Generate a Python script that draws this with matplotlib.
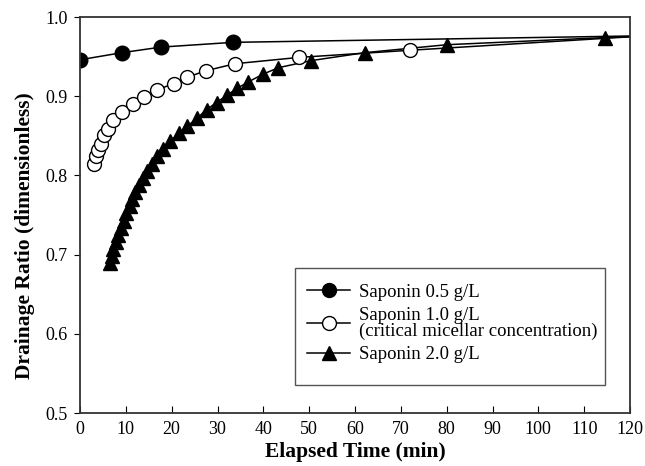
import matplotlib.pyplot as plt
from matplotlib.patches import Rectangle

plt.rcParams['font.family'] = ['Liberation Serif', 'DejaVu Serif']

# Saponin 0.5 g/L
t_05 = [0.0, 9.2, 17.7, 33.4]
r_05 = [0.946, 0.955, 0.962, 0.968]

# Saponin 1.0 g/L (CMC)
t_10 = [3.05, 3.5, 4.0, 4.5, 5.2, 6.2, 7.3, 9.1, 11.5, 14.0, 16.9, 20.4,
        23.4, 27.4, 33.8, 47.8, 72.0]
r_10 = [0.814, 0.824, 0.832, 0.840, 0.851, 0.859, 0.870, 0.880, 0.890, 0.899,
        0.908, 0.916, 0.924, 0.932, 0.941, 0.949, 0.958]

# Saponin 2.0 g/L
t_20 = [6.5, 6.9, 7.3, 7.8, 8.3, 8.9, 9.5, 10.1, 10.8, 11.4, 12.1, 12.9,
        13.8, 14.7, 15.6, 16.7, 18.0, 19.6, 21.6, 23.4, 25.5, 27.6, 29.8,
        32.0, 34.3, 36.7, 40.0, 43.3, 50.5, 62.2, 80.0, 114.5]
r_20 = [0.689, 0.698, 0.707, 0.716, 0.725, 0.734, 0.743, 0.752, 0.761, 0.770,
        0.779, 0.788, 0.797, 0.806, 0.815, 0.824, 0.833, 0.843, 0.853, 0.862,
        0.872, 0.883, 0.892, 0.901, 0.910, 0.918, 0.928, 0.936, 0.945, 0.955,
        0.965, 0.974]

# where the fitted lines end at the right edge
t_end = 120
r_end = [0.976, 0.975, 0.975]

fig = plt.figure(figsize=(6.45, 4.66), dpi=100)
ax = fig.add_axes([80 / 645, 1 - 413 / 466, 550 / 645, 396 / 466])

ax.plot(t_05 + [t_end], r_05 + [r_end[0]], color='black', lw=1.1)
ax.plot(t_10 + [t_end], r_10 + [r_end[1]], color='black', lw=1.1)
ax.plot(t_20 + [t_end], r_20 + [r_end[2]], color='black', lw=1.1)

ax.plot(t_05, r_05, 'o', ms=10.5, color='black', mfc='black')
ax.plot(t_10, r_10, 'o', ms=10, color='black', mfc='white', mew=1)
ax.plot(t_20, r_20, '^', ms=10, color='black', mfc='black')

# legend handles with line through marker
l1, = ax.plot([], [], '-o', color='black', ms=10, lw=1.1)
l2, = ax.plot([], [], '-o', color='black', mfc='white', ms=10, lw=1.1)
l3, = ax.plot([], [], '-^', color='black', ms=10, lw=1.1)
leg = ax.legend([l1, l2, l3],
                ['Saponin 0.5 g/L',
                 'Saponin 1.0 g/L\n(critical micellar concentration)',
                 'Saponin 2.0 g/L'],
                loc='center left', bbox_to_anchor=(0.4127, 0.226),
                fontsize=13.5, frameon=False,
                handlelength=2.3, labelspacing=0.3, borderpad=0,
                handletextpad=0.45, borderaxespad=0)
for txt in leg.get_texts():
    txt.set_linespacing(0.95)
# legend box drawn separately (taller than the legend padding allows)
ax.add_patch(Rectangle((0.391, 0.0707), 0.5635, 0.2953, transform=ax.transAxes,
                       fill=True, facecolor='white', edgecolor='#555555',
                       lw=1, zorder=4))
leg.set_zorder(5)

ax.set_xlim(0, 120)
ax.set_ylim(0.5, 1.0)
ax.set_xticks(range(0, 121, 10))
ax.set_yticks([0.5, 0.6, 0.7, 0.8, 0.9, 1.0])
ax.set_yticklabels(['0.5', '0.6', '0.7', '0.8', '0.9', '1.0'])
ax.tick_params(axis='x', direction='in', length=5, labelsize=13, pad=6)
ax.tick_params(axis='y', direction='out', length=4, labelsize=13, pad=5)
for s in ax.spines.values():
    s.set_linewidth(1.3)
    s.set_color('#333333')

ax.set_xlabel('Elapsed Time (min)', fontsize=15.5, fontweight='bold', labelpad=3)
ax.set_ylabel('Drainage Ratio (dimensionless)', fontsize=15.5, fontweight='bold')
ax.yaxis.set_label_coords(-0.082, 0.447)

fig.savefig('out.png', dpi=100)
